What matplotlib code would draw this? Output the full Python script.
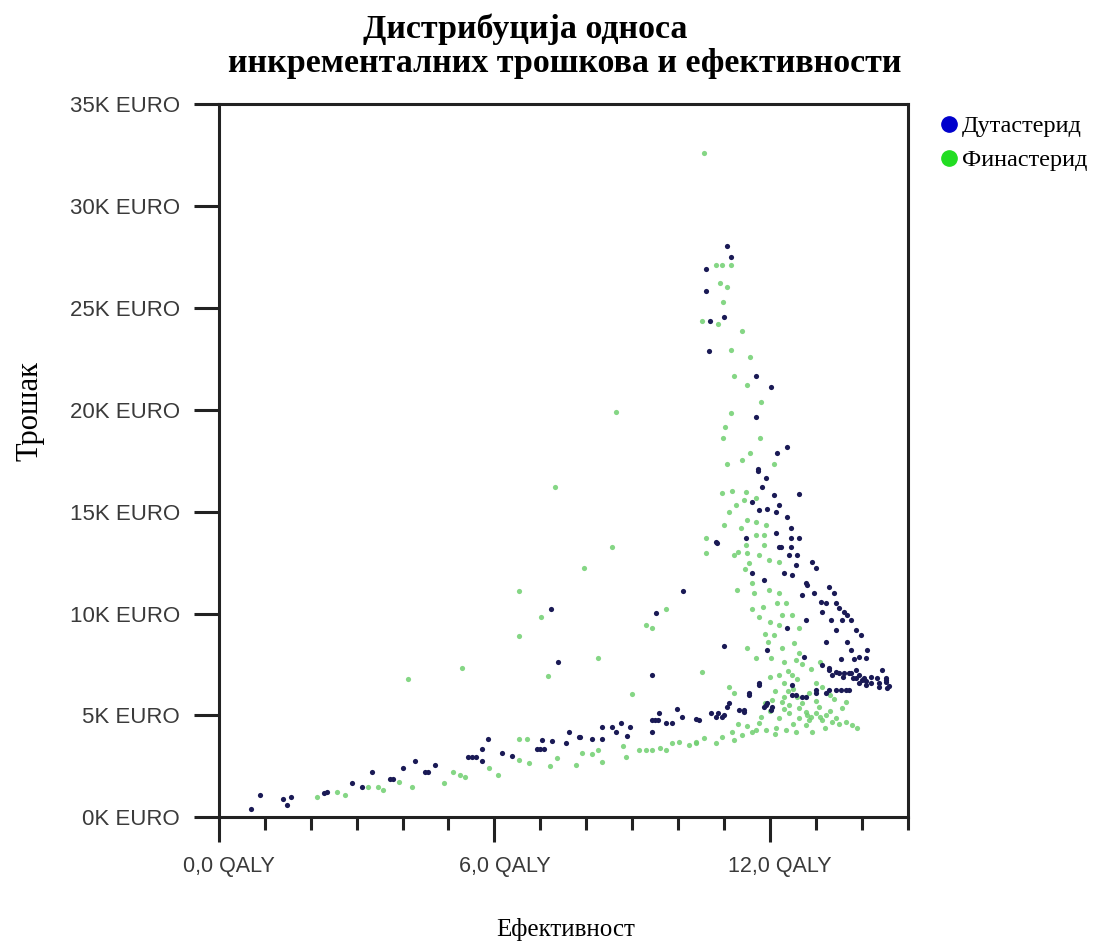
import matplotlib
matplotlib.use("Agg")
import matplotlib.pyplot as plt
import matplotlib.transforms as mtransforms
from matplotlib.lines import Line2D
from matplotlib.ticker import FixedLocator

# Incremental effectiveness (QALY) / cost (thousand EURO) pairs
duta_qaly = [
    0.70, 0.89, 1.39, 1.57, 1.48, 2.30, 2.36, 2.91, 3.11, 3.33, 3.72, 3.80, 4.00, 4.28,
    4.48, 4.56, 4.70, 5.43, 5.52, 5.61, 5.72, 5.85, 5.72, 6.17, 6.39, 6.93, 7.00, 7.09,
    7.04, 7.26, 7.57, 7.63, 7.85, 7.87, 8.13, 8.35, 8.35, 8.57, 8.65, 8.76, 8.89, 8.96,
    9.43, 9.50, 9.57, 9.43, 9.59, 9.74, 9.87, 9.98, 10.09, 10.39, 10.46, 10.72, 10.83,
    10.87, 10.96, 11.00, 11.07, 11.11, 11.33, 11.43, 11.43, 11.54, 11.54, 11.76, 11.76,
    11.87, 11.91, 11.93, 12.02, 12.04, 12.48, 12.48, 12.57, 12.70, 12.78, 13.00, 13.00,
    13.22, 13.28, 13.43, 13.54, 13.65, 13.72, 13.93, 14.09, 14.37, 14.54,
    # cluster around 7K EURO
    13.13, 13.28, 13.28, 13.43, 13.50, 13.61, 13.72, 13.76, 13.87, 13.87, 13.93, 14.00,
    14.04, 14.20, 14.20, 14.33, 14.37, 14.52, 14.52, 14.60, 13.35, 13.60, 13.80, 14.10,
    # scattered
    7.24, 7.39, 10.11, 9.52, 9.43, 10.85,
    # upper plume
    11.07, 11.15, 10.61, 10.61, 10.70, 11.00, 10.67, 11.70, 12.02, 11.70, 12.15, 12.37,
    11.74, 11.74, 11.91, 12.63, 11.83, 12.09, 12.20, 11.61, 11.76, 11.93, 12.13, 12.37,
    11.48, 12.13, 12.46, 12.46, 12.63, 10.83, 12.20, 12.46, 12.24, 12.59, 12.57, 12.41,
    11.61, 11.87, 12.78, 12.70, 12.78, 12.37, 11.00, 11.93, 12.74, 12.30, 12.48, 12.91,
    13.00, 12.80, 12.96, 13.28, 13.39, 13.11, 13.22, 13.43, 13.50, 13.61, 13.67, 13.13,
    13.33, 13.57, 13.76, 13.43, 13.87, 13.98, 13.22, 13.67, 13.76, 14.11, 13.54, 13.83,
    13.93, 14.09, 14.43, 14.52,
]
duta_cost = [
    0.39, 1.08, 0.88, 0.98, 0.59, 1.18, 1.25, 1.67, 1.47, 2.21, 1.87, 1.87, 2.41, 2.75,
    2.21, 2.21, 2.55, 2.95, 2.95, 2.95, 3.34, 3.83, 2.75, 3.14, 2.99, 3.34, 3.34, 3.34,
    3.78, 3.73, 3.63, 4.17, 3.93, 3.93, 3.83, 3.83, 4.42, 4.42, 4.17, 4.61, 3.98, 4.42,
    4.76, 4.76, 4.76, 4.17, 5.11, 4.61, 4.61, 5.30, 4.91, 4.81, 4.76, 5.11, 4.91,
    5.11, 4.91, 5.01, 5.40, 5.60, 5.25, 5.15, 5.25, 5.99, 6.09, 6.48, 6.58,
    5.40, 5.50, 5.60, 5.25, 5.40, 5.99, 6.48, 5.99, 5.89, 5.89, 6.09, 6.23,
    6.09, 6.23, 6.23, 6.23, 6.23, 6.23, 6.58, 6.48, 6.38, 6.33,
    7.46, 7.31, 7.22, 7.12, 7.07, 7.07, 7.07, 7.07, 7.22, 6.82, 6.97, 6.73,
    6.82, 6.87, 6.58, 6.82, 6.58, 6.63, 6.73, 6.45, 7.00, 6.90, 6.85, 6.70,
    10.21, 7.61, 11.09, 10.01, 6.97, 13.45,
    28.03, 27.49, 26.90, 25.82, 24.35, 24.55, 22.88, 21.65, 21.11, 19.64, 17.87, 18.16,
    17.08, 17.00, 16.64, 15.86, 16.20, 15.81, 15.32, 15.46, 15.07, 15.12, 14.97, 14.73,
    13.70, 13.94, 14.19, 13.70, 13.70, 13.50, 13.25, 13.25, 13.25, 12.86, 12.37, 12.86,
    11.98, 11.63, 11.49, 10.90, 9.67, 9.28, 8.39, 8.20, 7.85, 11.98, 11.88, 12.52,
    12.22, 11.39, 11.00, 11.29, 11.00, 10.55, 10.51, 10.51, 10.26, 10.06, 9.92, 10.06,
    9.67, 9.67, 9.67, 9.18, 9.18, 8.93, 8.59, 8.59, 8.20, 8.20, 7.76, 7.76,
    7.85, 7.81, 7.22, 6.82,
]

fina_qaly = [
    2.13, 2.57, 2.74, 3.24, 3.46, 3.57, 3.93, 4.20, 4.91, 5.09, 5.35, 5.26, 5.89, 6.07,
    6.54, 6.76, 6.54, 6.70, 7.20, 7.37, 7.78, 7.91, 8.13, 8.35, 8.26, 8.80, 8.87, 9.15,
    9.30, 9.43, 9.60, 9.74, 9.87, 10.02, 10.24, 10.39, 10.39, 10.57, 10.83, 10.96, 11.17,
    11.22, 11.39, 11.61, 11.76, 11.91, 12.13, 12.20, 12.35, 12.41, 12.57, 12.63, 12.78,
    12.85, 12.91, 13.13, 13.35, 13.43, 13.65, 13.78, 13.90, 13.22, 13.00, 12.78, 12.63,
    12.41, 12.26, 12.04, 13.07, 13.57, 13.65, 11.11, 11.22, 10.52, 12.48, 13.00, 13.13,
    12.85, 12.40, 12.60, 12.30, 12.90, 13.10, 12.20, 12.70, 12.00, 13.30, 13.40, 12.50,
    12.10, 12.30, 12.70, 13.00, 9.00,
    # dense band near 4-6K EURO
    11.50, 11.80, 12.00, 12.30, 12.50, 12.90, 13.20, 13.50, 12.10, 11.30, 11.90, 12.60,
    13.30, 11.70, 12.80, 13.10,
    # scattered
    10.57, 8.65, 7.33, 8.57, 7.96, 6.54, 7.02, 6.54, 7.17, 5.30, 4.11, 9.74, 9.30, 9.43,
    8.26,
    # upper plume
    10.83, 10.96, 11.15, 10.91, 11.07, 10.98, 10.52, 10.87, 11.39, 11.15, 11.57, 11.22,
    11.50, 11.80, 11.15, 11.02, 10.98, 11.78, 11.57, 11.39, 11.07, 12.09, 11.17, 11.48,
    11.43, 11.26, 11.70, 11.50, 11.70, 11.91, 11.00, 11.37, 11.70, 11.87, 10.61, 11.48,
    11.87, 10.61, 11.22, 11.50, 11.76, 11.54, 11.98, 12.20, 11.28, 11.65, 11.98, 12.20,
    12.15, 12.35, 12.26, 12.48, 11.76, 12.20, 12.63, 12.09, 12.52, 11.70, 12.02, 12.26,
    12.63, 12.57, 10.95, 11.10, 11.30, 11.45, 11.60, 11.85, 12.00, 11.95,
    11.60, 11.90, 12.30, 11.50, 12.40,
]
fina_cost = [
    0.98, 1.23, 1.08, 1.47, 1.47, 1.33, 1.72, 1.47, 1.67, 2.21, 1.96, 2.10, 2.41, 2.06,
    2.80, 2.65, 3.83, 3.83, 2.50, 2.90, 2.55, 3.14, 3.09, 2.70, 3.29, 3.49, 2.95, 3.29,
    3.29, 3.29, 3.40, 3.29, 3.63, 3.68, 3.53, 3.68, 3.63, 3.88, 3.63, 3.93, 4.17,
    3.78, 4.03, 4.17, 4.61, 4.27, 4.37, 4.86, 4.27, 5.11, 4.17, 4.86, 4.52,
    4.76, 4.17, 4.76, 4.66, 4.86, 4.66, 4.52, 4.40, 5.01, 5.11, 5.15, 5.35,
    5.50, 5.65, 5.74, 5.40, 5.35, 5.65, 6.38, 6.09, 7.12, 6.97, 6.58, 6.38,
    6.09, 7.20, 6.80, 6.60, 7.30, 7.60, 7.00, 7.50, 6.90, 6.00, 5.80, 6.30,
    6.20, 5.90, 5.60, 5.70, 6.04,
    4.50, 4.90, 5.20, 5.30, 4.60, 4.90, 4.40, 4.60, 4.10, 4.60, 5.60, 5.90,
    5.20, 4.30, 5.00, 4.90,
    32.60, 19.88, 16.20, 13.25, 12.22, 11.09, 9.82, 8.89, 6.92, 7.31, 6.77, 10.21, 9.43, 9.28,
    7.81,
    27.10, 27.10, 27.10, 26.21, 26.02, 25.28, 24.35, 24.20, 23.86, 22.93, 22.58, 21.65,
    21.21, 20.37, 19.83, 19.15, 18.61, 18.61, 17.87, 17.53, 17.33, 17.33, 16.00, 15.95,
    15.56, 15.32, 15.66, 14.58, 14.48, 14.33, 14.33, 14.19, 13.84, 13.84, 13.70, 13.35,
    13.35, 12.96, 12.86, 12.96, 12.86, 12.47, 12.62, 12.52, 11.14, 11.00, 11.14, 11.00,
    10.51, 10.51, 9.92, 9.92, 9.82, 9.43, 9.28, 8.93, 8.54, 7.81, 7.81, 8.30,
    8.05, 7.71, 15.90, 15.00, 13.00, 12.20, 11.50, 10.30, 9.60, 8.60,
    10.20, 9.00, 7.60, 8.30, 6.20,
]

series_names = ["Дутастерид", "Финастерид"]
y_ticks = [0, 5, 10, 15, 20, 25, 30, 35]
y_tick_labels = [f"{v}K EURO" for v in y_ticks]
x_ticks = [0, 6, 12]
x_tick_labels = ["0,0 QALY", "6,0 QALY", "12,0 QALY"]

serif = "Liberation Serif"
sans = "Liberation Sans"

fig = plt.figure(figsize=(11.11, 9.46), dpi=100)
ax = fig.add_axes([0.197, 0.136, 0.620, 0.754])

ax.scatter(fina_qaly, fina_cost, s=14, color="#70cf70", alpha=0.85, linewidths=0, zorder=2)
ax.scatter(duta_qaly, duta_cost, s=14, color="#1a1a55", linewidths=0, zorder=3)

ax.set_xlim(0, 15)
ax.set_ylim(0, 35)

for side in ["left", "right", "top", "bottom"]:
    ax.spines[side].set_linewidth(2.2)
    ax.spines[side].set_color("#222222")

ax.set_yticks(y_ticks)
ax.set_yticklabels(y_tick_labels, fontfamily=sans, fontsize=16, color="#3a3a3a")
ax.set_xticks(x_ticks)
ax.set_xticklabels(x_tick_labels, fontfamily=sans, fontsize=15.5, color="#3a3a3a")
ax.xaxis.set_minor_locator(FixedLocator([v for v in range(1, 16) if v not in x_ticks]))
ax.tick_params(axis="y", length=18, width=2.2, color="#222222", pad=10)
ax.tick_params(axis="x", which="major", length=18, width=2.2, color="#222222", pad=10)
ax.tick_params(axis="x", which="minor", length=9, width=2.2, color="#222222")

# nudge QALY labels slightly right of their ticks
shift = mtransforms.ScaledTranslation(10 / 100, 0, fig.dpi_scale_trans)
for lbl in ax.get_xticklabels():
    lbl.set_transform(lbl.get_transform() + shift)

fig.text(0.473, 0.969, "Дистрибуција односа", ha="center", va="center",
         fontfamily=serif, fontweight="bold", fontsize=24.5)
fig.text(0.508, 0.933, "инкременталних трошкова и ефективности", ha="center", va="center",
         fontfamily=serif, fontweight="bold", fontsize=24.5)

fig.text(0.027, 0.565, "Трошак", rotation=90, ha="center", va="center",
         fontfamily=serif, fontsize=22)
fig.text(0.509, 0.017, "Ефективност", ha="center", va="center",
         fontfamily=serif, fontsize=18)

handles = [
    Line2D([], [], marker="o", linestyle="none", markersize=11, color="#0000cc"),
    Line2D([], [], marker="o", linestyle="none", markersize=11, color="#22dd22"),
]
ax.legend(handles, series_names, loc="upper left", bbox_to_anchor=(1.01, 1.015),
          frameon=False, handletextpad=0.05, handlelength=1.0, labelspacing=0.5,
          prop={"family": serif, "size": 17.5})

fig.savefig("out.png", dpi=100)
